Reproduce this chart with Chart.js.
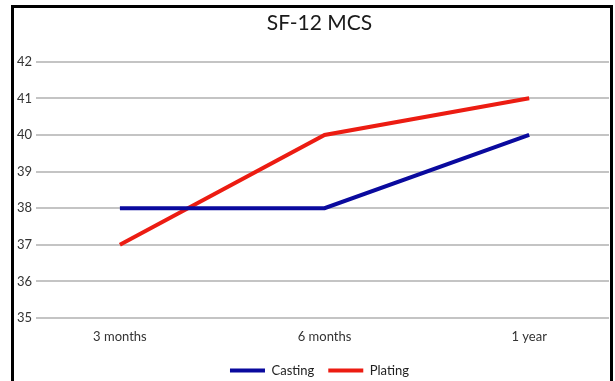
<!DOCTYPE html>
<html>
<head>
<meta charset="utf-8">
<script src="https://cdn.jsdelivr.net/npm/chart.js@4"></script>
<style>
  html, body { margin: 0; padding: 0; background: #fff; }
  #wrap { position: relative; width: 615px; height: 381px; overflow: hidden; }
  #c { position: absolute; left: 0; top: 0; }
  #frame { position: absolute; left: 11px; top: 5px; width: 596px; height: 400px;
           border: 3px solid #000; border-bottom: none; pointer-events: none; }
</style>
</head>
<body>
<div id="wrap">
  <canvas id="c" width="615" height="381"></canvas>
  <div id="frame"></div>
</div>
<script>
const title = "SF-12 MCS";
const categories = ["3 months", "6 months", "1 year"];
const casting = [38, 38, 40];
const plating = [37, 40, 41];
const yTicks = [35, 36, 37, 38, 39, 40, 41, 42];

const FONT = "Lato, 'Open Sans', sans-serif";

const toPoints = arr => arr.map((v, i) => ({ x: i, y: v }));

// shift title and legend slightly right, as in the reference
const shiftPlugin = {
  id: 'shiftBlocks',
  afterLayout(chart) {
    const dx = 9;
    [chart.titleBlock, chart.legend].forEach(b => { if (b) { b.left += dx; b.right += dx; } });
  }
};

new Chart(document.getElementById('c'), {
  type: 'line',
  data: {
    datasets: [
      { label: 'Casting', data: toPoints(casting), borderColor: '#0a0a9e', backgroundColor: '#0a0a9e',
        borderWidth: 4, pointRadius: 0, pointStyle: 'line', tension: 0 },
      { label: 'Plating', data: toPoints(plating), borderColor: '#ec1c12', backgroundColor: '#ec1c12',
        borderWidth: 4, pointRadius: 0, pointStyle: 'line', tension: 0 }
    ]
  },
  plugins: [shiftPlugin],
  options: {
    responsive: false,
    animation: false,
    devicePixelRatio: 1,
    layout: { padding: { left: 12, right: 6, top: 0, bottom: -6 } },
    plugins: {
      title: { display: true, text: title, color: '#1a1a1a',
               font: { family: FONT, size: 21, weight: 'normal' },
               padding: { top: 11, bottom: 25.5 } },
      legend: { position: 'bottom',
        labels: { usePointStyle: true, pointStyleWidth: 35, color: '#222',
                  font: { family: FONT, size: 13 }, padding: 14 } },
      tooltip: { enabled: false }
    },
    scales: {
      x: {
        type: 'linear', min: -0.41, max: 2.39,
        grid: { display: false }, border: { display: false },
        afterBuildTicks: s => { s.ticks = categories.map((c, i) => ({ value: i })); },
        afterFit: s => { s.height = 32; },
        ticks: { autoSkip: false, maxRotation: 0, padding: 3, color: '#333',
                 font: { family: FONT, size: 13 }, callback: v => categories[v] }
      },
      y: {
        min: 35, max: 42,
        afterBuildTicks: s => { s.ticks = yTicks.map(v => ({ value: v })); },
        afterFit: s => { s.width = 24; },
        grid: { color: '#c4c4c4', lineWidth: 2, drawTicks: false },
        border: { display: false },
        ticks: { padding: 4, color: '#333', font: { family: FONT, size: 13 } }
      }
    }
  }
});
</script>
</body>
</html>
